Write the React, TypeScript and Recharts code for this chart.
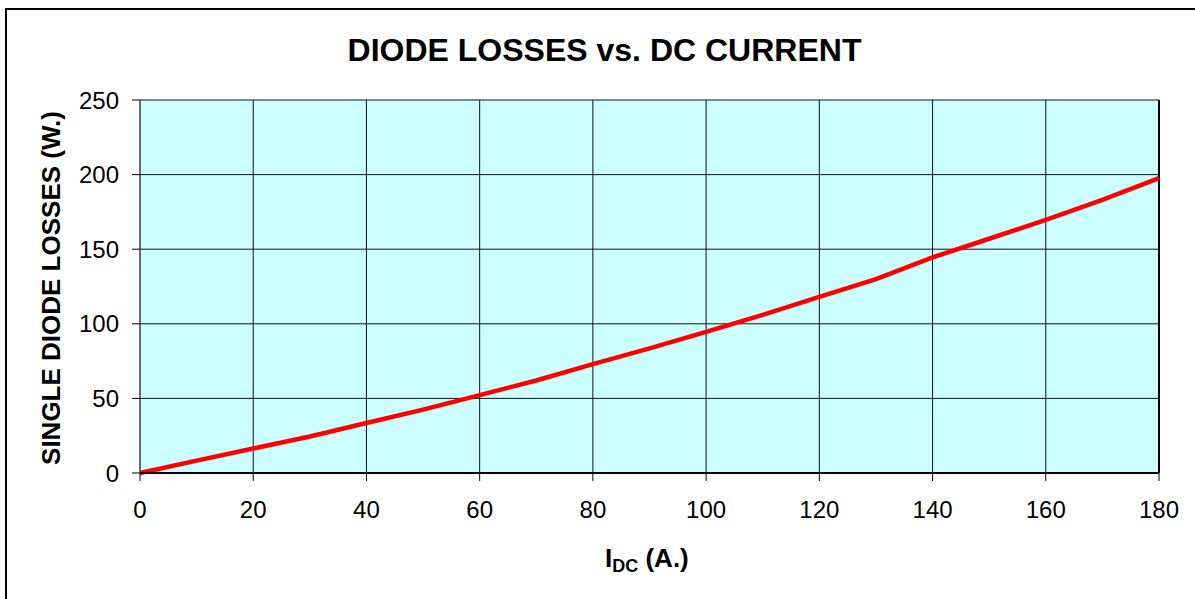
import { CartesianGrid, Line, LineChart, ReferenceLine, XAxis, YAxis } from "recharts";

const CURRENT = [0, 10, 20, 30, 40, 50, 60, 70, 80, 90, 100, 110, 120, 130, 140, 150, 160, 170, 180];
const LOSSES = [0, 8.3, 16.4, 24.5, 33.5, 42.5, 52.2, 62, 73, 83.5, 94.6, 106, 118, 130, 144.5, 157, 169.6, 183, 197.6];
const X_TICKS = [0, 20, 40, 60, 80, 100, 120, 140, 160, 180];
const Y_TICKS = [0, 50, 100, 150, 200, 250];

const FONT = "'Liberation Sans', Arial, sans-serif";

const data = CURRENT.map((c, i) => ({ idc: c, loss: LOSSES[i] }));

export default function App() {
  return (
    <div
      style={{
        position: "absolute",
        left: 0,
        top: 0,
        width: 1195,
        height: 599,
        overflow: "hidden",
        background: "#fff",
        fontFamily: FONT,
      }}
    >
      {/* outer chart frame */}
      <div
        style={{
          position: "absolute",
          left: 5,
          top: 8,
          width: 1400,
          height: 800,
          border: "2px solid #000",
        }}
      />
      <div
        style={{
          position: "absolute",
          left: 7,
          top: 34,
          width: 1195,
          textAlign: "center",
          fontSize: 32,
          lineHeight: "32px",
          fontWeight: "bold",
        }}
      >
        DIODE LOSSES vs. DC CURRENT
      </div>
      <div
        style={{
          position: "absolute",
          left: 50.5,
          top: 288.3,
          transform: "translate(-50%, -50%) rotate(-90deg)",
          whiteSpace: "nowrap",
          fontSize: 26,
          lineHeight: "26px",
          fontWeight: "bold",
        }}
      >
        SINGLE DIODE LOSSES (W.)
      </div>
      <div
        style={{
          position: "absolute",
          left: 605,
          top: 545,
          whiteSpace: "nowrap",
          fontSize: 26,
          lineHeight: "26px",
          fontWeight: "bold",
        }}
      >
        I
        <span style={{ fontSize: 18, position: "relative", top: 5 }}>DC</span>
        {" (A.)"}
      </div>
      <div style={{ position: "absolute", left: 0, top: 0 }}>
        <LineChart
          width={1195}
          height={599}
          data={data}
          margin={{ top: 100, right: 36, left: 0, bottom: 0 }}
        >
          <CartesianGrid stroke="#111" strokeWidth={1} fill="#CCFFFF" fillOpacity={1} />
          <XAxis
            dataKey="idc"
            type="number"
            domain={[0, 180]}
            ticks={X_TICKS}
            height={126}
            tickSize={8}
            tickMargin={20}
            axisLine={{ stroke: "#000", strokeWidth: 2 }}
            tickLine={{ stroke: "#000" }}
            tick={{ fill: "#000", fontSize: 24, fontFamily: FONT }}
          />
          <YAxis
            type="number"
            domain={[0, 250]}
            ticks={Y_TICKS}
            width={140}
            tickSize={8}
            tickMargin={13}
            axisLine={{ stroke: "#555", strokeWidth: 1 }}
            tickLine={{ stroke: "#000" }}
            tick={{ fill: "#000", fontSize: 24, fontFamily: FONT }}
          />
          <ReferenceLine x={180} stroke="#000" strokeWidth={2} />
          <Line
            type="linear"
            dataKey="loss"
            stroke="#FF0000"
            strokeWidth={4.5}
            dot={false}
            isAnimationActive={false}
          />
        </LineChart>
      </div>
    </div>
  );
}
